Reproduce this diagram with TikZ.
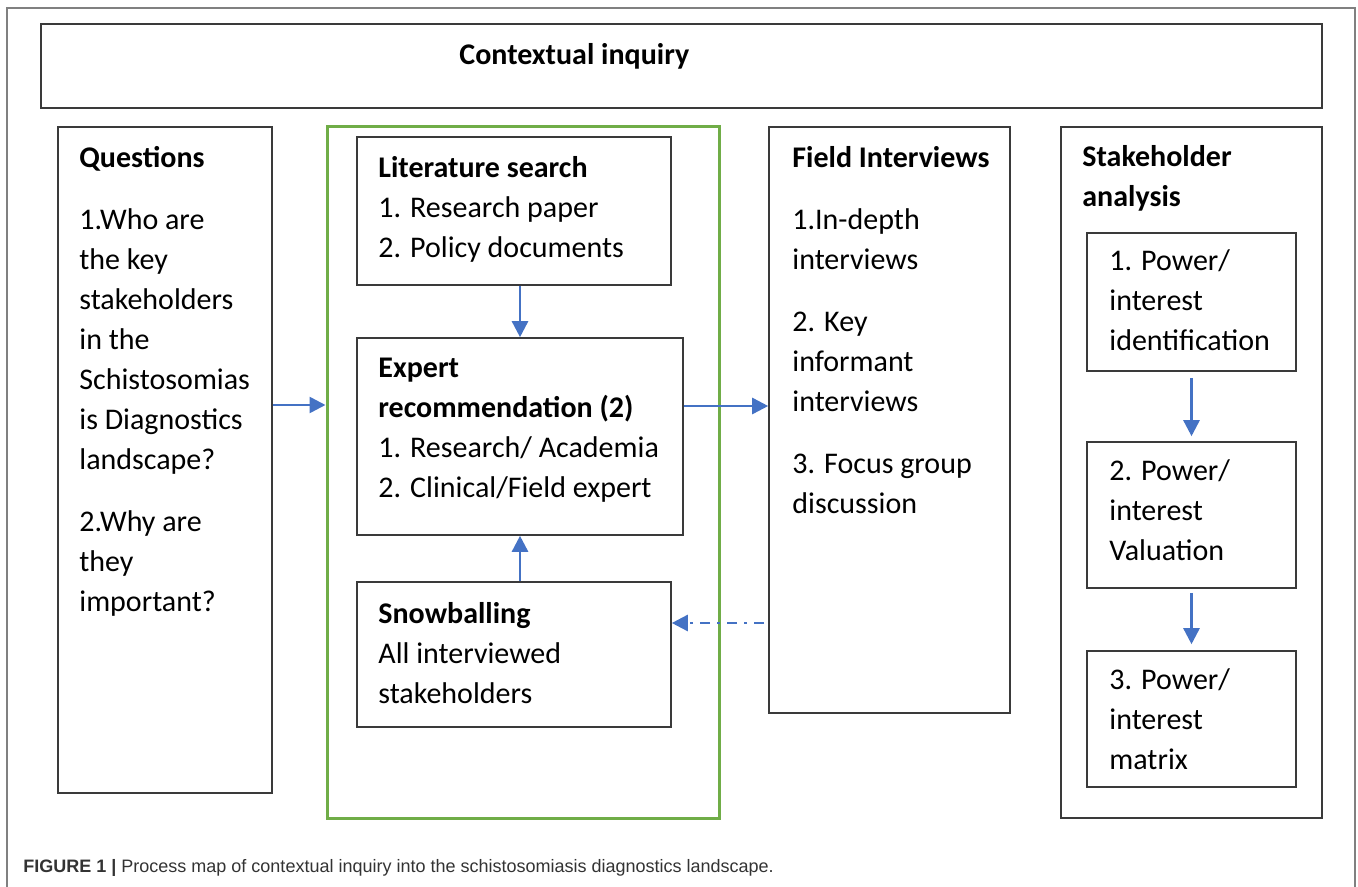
\documentclass[tikz,border=0pt]{standalone}
\usepackage{fontspec}
\usepackage{graphicx}
\setmainfont{Carlito}
\newfontfamily\capfont{Liberation Sans}
\usetikzlibrary{arrows.meta,fit}
\definecolor{blu}{HTML}{4472C4}
\definecolor{grn}{HTML}{70AD47}
\definecolor{boxgray}{HTML}{3A3A3A}
\def\bodyfont{\fontsize{15}{20}\selectfont}
\tikzset{
	box/.style={draw=boxgray, line width=0.8pt, inner sep=0pt},
	grpbox/.style={draw=grn, line width=1.5pt, inner sep=0pt},
	txt/.style={anchor=north west, inner sep=0pt, align=left, font=\bodyfont},
	flow/.style={draw=blu, line width=1.3pt, -{Triangle[length=8pt,width=8pt]}},
	back/.style={flow, dash pattern=on 5pt off 3.5pt on 1.5pt off 3.5pt}
}

\begin{document}
\begin{tikzpicture}[x=0.5pt,y=-0.5pt]
			%%%%% START %%%%%
			\useasboundingbox (0,0) rectangle (1358,887);
			\draw[black!50, line width=0.6pt] (7,887) -- (7,8) -- (1355,8) -- (1355,887);
			
			% title bar
			\node[box, fit={(41,24) (1322,108)}] (ctx) {};
			\node[txt, font=\bodyfont\bfseries] (ctxtx) at (459,36) {\strut Contextual inquiry};
			
			% questions
			\node[box, fit={(58,127) (272,793)}] (qst) {};
			\node[txt] (qsttx) at (79,139) {\strut\textbf{Questions}\\[11pt]
				1.Who are\\the key\\stakeholders\\in the\\Schistosomias\\is Diagnostics\\landscape?\\[11pt]
				2.Why are\\they\\important?};
			
			% green group
			\node[grpbox, fit={(327,127) (719,818)}] (grp) {};
			\node[box, fit={(357,137) (671,285)}] (lit) {};
			\node[txt] (littx) at (378,149) {\strut\textbf{Literature search}\\1. Research paper\\2. Policy documents};
			\node[box, fit={(357,338) (683,535)}] (exp) {};
			\node[txt] (exptx) at (378,349) {\strut\textbf{Expert}\\\textbf{recommendation (2)}\\1. Research/ Academia\\2. Clinical/Field expert};
			\node[box, fit={(357,582) (671,727)}] (snow) {};
			\node[txt] (snowtx) at (378,595) {\strut\textbf{Snowballing}\\All interviewed\\stakeholders};
			
			% field interviews
			\node[box, fit={(769,127) (1010,713)}] (fld) {};
			\node[txt] (fldtx) at (792,139) {\strut\textbf{Field Interviews}\\[11pt]
				1.In-depth\\interviews\\[11pt]
				2. Key\\informant\\interviews\\[11pt]
				3. Focus group\\discussion};
			
			% stakeholder analysis
			\node[box, fit={(1061,127) (1322,818)}] (stk) {};
			\node[txt] (stktx) at (1082,138) {\strut\textbf{Stakeholder}\\\textbf{analysis}};
			\node[box, fit={(1087,233) (1296,371)}] (pw1) {};
			\node[txt] (pw1tx) at (1109,242) {\strut 1. Power/\\interest\\identification};
			\node[box, fit={(1087,442) (1296,588)}] (pw2) {};
			\node[txt] (pw2tx) at (1109,452) {\strut 2. Power/\\interest\\Valuation};
			\node[box, fit={(1087,651) (1296,787)}] (pw3) {};
			\node[txt] (pw3tx) at (1109,661) {\strut 3. Power/\\interest\\matrix};
			
			% arrows
			\coordinate (qy) at (0,405);
			\coordinate (ey) at (0,406);
			\coordinate (sy) at (0,623);
			\draw[flow] (qst.east |- qy) -- (grp.west |- qy);
			\draw[flow] (exp.north |- lit.south) -- (exp.north);
			\draw[flow] (exp.south |- snow.north) -- (exp.south);
			\draw[flow] (exp.east |- ey) -- (fld.west |- ey);
			\draw[back, shorten <=2pt] (fld.west |- sy) -- (snow.east |- sy);
			\draw[flow, shorten <=3pt, shorten >=2.5pt] (pw1.south) -- (pw2.north);
			\draw[flow, shorten <=2pt, shorten >=3pt] (pw2.south) -- (pw3.north);
			
			% caption
			\node[anchor=base west, inner sep=0pt, text=black!80, font=\capfont\fontsize{9}{11}\selectfont] (cap) at (23,872)
				{\textbf{FIGURE 1 |} Process map of contextual inquiry into the schistosomiasis diagnostics landscape.};
			%%%%% END %%%%%
\end{tikzpicture}
\end{document}
